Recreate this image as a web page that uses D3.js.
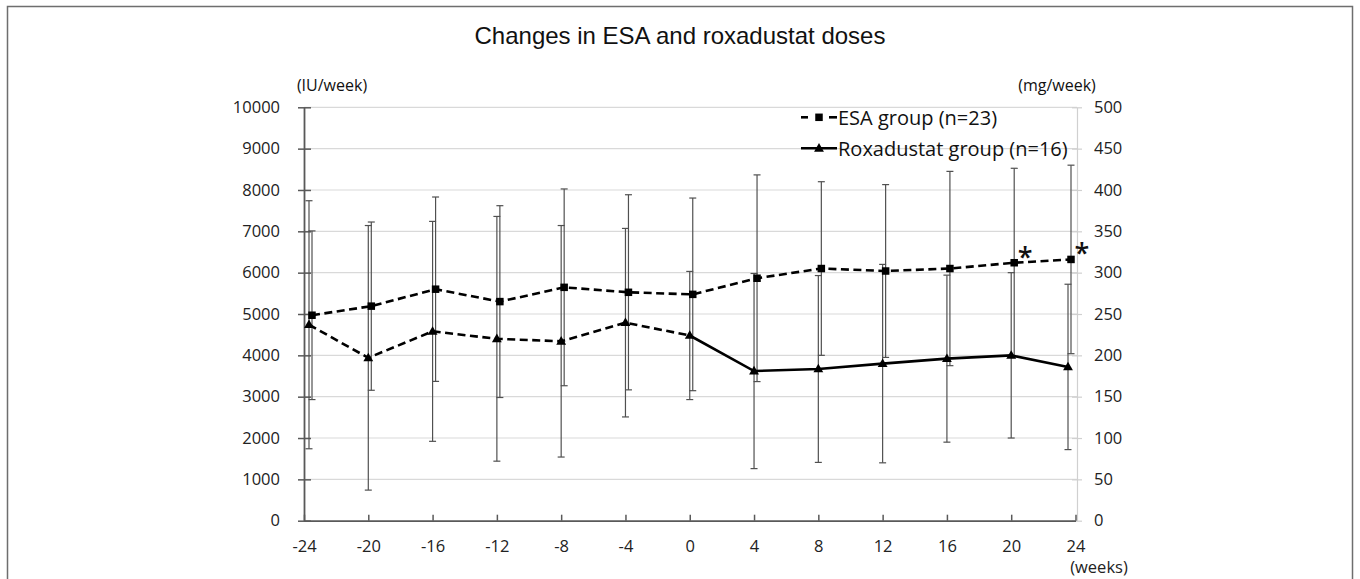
<!DOCTYPE html>
<html>
<head>
<meta charset="utf-8">
<script src="https://cdn.jsdelivr.net/npm/d3@7"></script>
<style>
  html, body { margin: 0; padding: 0; background: #fff; }
  svg { display: block; }
</style>
</head>
<body>
<svg id="chart" width="1360" height="579"></svg>
<script>
// ---------- data ----------
const weeks = [-24, -20, -16, -12, -8, -4, 0, 4, 8, 12, 16, 20, 24];
const leftTicks = [0, 1000, 2000, 3000, 4000, 5000, 6000, 7000, 8000, 9000, 10000];
const rightTicks = [0, 50, 100, 150, 200, 250, 300, 350, 400, 450, 500];
// ESA group (IU/week), mean and SD
const esaMean = [4970, 5190, 5600, 5300, 5645, 5525, 5475, 5865, 6100, 6040, 6100, 6240, 6320];
const esaSD   = [2040, 2035, 2230, 2320, 2380, 2360, 2330, 2500, 2100, 2090, 2350, 2285, 2280];
// Roxadustat group (mg/week), mean and SD
const roxMean = [237, 197, 229, 220, 217, 239.5, 224, 181, 183.5, 190, 196, 200, 186];
const roxSD   = [150, 160, 133, 148, 140, 114, 77.5, 118, 113, 120, 101, 100, 100];
const sigWeeks = [20, 24];
const switchWeek = 0;
const title = "Changes in ESA and roxadustat doses";
const legendLabels = ["ESA group (n=23)", "Roxadustat group (n=16)"];

// ---------- layout ----------
const svg = d3.select("#chart");
const L = 304, R = 1077, T = 107.3, B = 520.7;
const tickFont = "'Open Sans', sans-serif";
const headFont = "'Liberation Sans', Arial, sans-serif";

const x = d3.scaleLinear().domain([-24, 24]).range([L, R - 1.5]);
const yL = d3.scaleLinear().domain([0, 10000]).range([B, T]);
const yR = d3.scaleLinear().domain([0, 500]).range([B, T]);

// point x with end inset, plus small dodge for ESA
const px = (w, off) => Math.max(L + 5, Math.min(R - 9, x(w))) + off;
const ESA_OFF = 3, ROX_OFF = 0;

// outer frame
svg.append("rect").attr("x", 7.5).attr("y", 6.5).attr("width", 1345).attr("height", 620)
  .attr("fill", "none").attr("stroke", "#6e6e6e").attr("stroke-width", 1.5);

// title
svg.append("text").attr("x", 680).attr("y", 44).attr("text-anchor", "middle")
  .attr("font-family", headFont).attr("font-size", 24).attr("fill", "#111").text(title);
svg.append("text").attr("x", 332).attr("y", 91).attr("text-anchor", "middle")
  .attr("font-family", tickFont).attr("font-size", 16).attr("fill", "#111").text("(IU/week)");
svg.append("text").attr("x", 1057).attr("y", 91).attr("text-anchor", "middle")
  .attr("font-family", tickFont).attr("font-size", 16).attr("fill", "#111").text("(mg/week)");

// gridlines
svg.append("g").selectAll("line").data(leftTicks.filter(d => d > 0)).join("line")
  .attr("x1", L).attr("x2", R).attr("y1", d => yL(d)).attr("y2", d => yL(d))
  .attr("stroke", "#d9d9d9").attr("stroke-width", 1.2);

// left axis
const gL = svg.append("g").attr("transform", `translate(${L},0)`)
  .call(d3.axisLeft(yL).tickValues(leftTicks).tickFormat(d => String(d)).tickSizeInner(6).tickSizeOuter(0).tickPadding(18));
gL.select(".domain").attr("stroke", "#595959").attr("stroke-width", 1.8);
gL.selectAll(".tick line").attr("stroke", "#595959").attr("stroke-width", 1.5).attr("x2", -6).attr("x1", 7);
gL.selectAll(".tick text").attr("font-family", tickFont).attr("font-size", 16.5).attr("fill", "#222");

// right axis
const gR = svg.append("g").attr("transform", `translate(${R},0)`)
  .call(d3.axisRight(yR).tickValues(rightTicks).tickFormat(d => String(d)).tickSizeInner(5).tickSizeOuter(0).tickPadding(12));
gR.select(".domain").attr("stroke", "#d0d0d0").attr("stroke-width", 1.2);
gR.selectAll(".tick line").attr("stroke", "#d0d0d0").attr("stroke-width", 1.2).attr("x1", -5).attr("x2", 5);
gR.selectAll(".tick text").attr("font-family", tickFont).attr("font-size", 16.5).attr("fill", "#222");

// bottom axis
const gB = svg.append("g").attr("transform", `translate(0,${B})`)
  .call(d3.axisBottom(x).tickValues(weeks).tickFormat(d => String(d)).tickSizeInner(-6).tickSizeOuter(0).tickPadding(20));
gB.select(".domain").attr("stroke", "#595959").attr("stroke-width", 1.8);
gB.selectAll(".tick line").attr("stroke", "#595959").attr("stroke-width", 1.5);
gB.selectAll(".tick text").attr("font-family", tickFont).attr("font-size", 16.5).attr("fill", "#222");
svg.append("text").attr("x", 1099).attr("y", 573).attr("text-anchor", "middle")
  .attr("font-family", tickFont).attr("font-size", 16.5).attr("fill", "#222").text("(weeks)");

// data rows
const esa = weeks.map((w, i) => ({ w, m: esaMean[i], sd: esaSD[i], cx: px(w, ESA_OFF), y: yL }));
const rox = weeks.map((w, i) => ({ w, m: roxMean[i], sd: roxSD[i], cx: px(w, ROX_OFF), y: yR }));

// error bars
function errorBars(rows) {
  const g = svg.append("g").attr("stroke", "#505050").attr("stroke-width", 1.2);
  rows.forEach(d => {
    const y1 = d.y(d.m + d.sd), y2 = d.y(d.m - d.sd);
    g.append("line").attr("x1", d.cx).attr("x2", d.cx).attr("y1", y1).attr("y2", y2);
    g.append("line").attr("x1", d.cx - 3.5).attr("x2", d.cx + 3.5).attr("y1", y1).attr("y2", y1);
    g.append("line").attr("x1", d.cx - 3.5).attr("x2", d.cx + 3.5).attr("y1", y2).attr("y2", y2);
  });
}
errorBars(rox);
errorBars(esa);

// lines
const lineGen = d3.line().x(d => d.cx).y(d => d.y(d.m));
svg.append("path").datum(esa).attr("d", lineGen).attr("fill", "none")
  .attr("stroke", "#000").attr("stroke-width", 2.6).attr("stroke-dasharray", "8,4.5");
svg.append("path").datum(rox.filter(d => d.w <= switchWeek)).attr("d", lineGen).attr("fill", "none")
  .attr("stroke", "#000").attr("stroke-width", 2.6).attr("stroke-dasharray", "8,4.5");
svg.append("path").datum(rox.filter(d => d.w >= switchWeek)).attr("d", lineGen).attr("fill", "none")
  .attr("stroke", "#000").attr("stroke-width", 2.6);

// markers
const sq = 7.5;
svg.append("g").selectAll("rect").data(esa).join("rect")
  .attr("x", d => d.cx - sq / 2).attr("y", d => d.y(d.m) - sq / 2)
  .attr("width", sq).attr("height", sq).attr("fill", "#000");
const tri = d3.symbol().type(d3.symbolTriangle).size(42);
svg.append("g").selectAll("path").data(rox).join("path")
  .attr("d", tri).attr("transform", d => `translate(${d.cx},${d.y(d.m) + 0.5})`).attr("fill", "#000");

// significance asterisks
svg.append("g").selectAll("text").data(esa.filter(d => sigWeeks.includes(d.w))).join("text")
  .attr("x", d => d.cx + 11).attr("y", d => d.y(d.m) + 4).attr("text-anchor", "middle")
  .attr("font-family", tickFont).attr("font-size", 27).attr("font-weight", 600).attr("fill", "#111").text("*");

// legend
const lg = svg.append("g");
const lx0 = 801, lx1 = 837, ly = [117.3, 148.3];
lg.append("line").attr("x1", lx0).attr("x2", lx0 + 7).attr("y1", ly[0]).attr("y2", ly[0]).attr("stroke", "#000").attr("stroke-width", 2.6);
lg.append("line").attr("x1", lx1 - 8).attr("x2", lx1).attr("y1", ly[0]).attr("y2", ly[0]).attr("stroke", "#000").attr("stroke-width", 2.6);
lg.append("rect").attr("x", 819 - sq / 2).attr("y", ly[0] - sq / 2).attr("width", sq).attr("height", sq).attr("fill", "#000");
lg.append("line").attr("x1", lx0).attr("x2", lx1).attr("y1", ly[1]).attr("y2", ly[1]).attr("stroke", "#000").attr("stroke-width", 2.6);
lg.append("path").attr("d", tri).attr("transform", `translate(819,${ly[1] + 0.5})`).attr("fill", "#000");
lg.selectAll("text").data(legendLabels).join("text")
  .attr("x", 838).attr("y", (d, i) => ly[i] + 7.5)
  .attr("font-family", tickFont).attr("font-size", 20).attr("fill", "#111").text(d => d);
</script>
</body>
</html>
